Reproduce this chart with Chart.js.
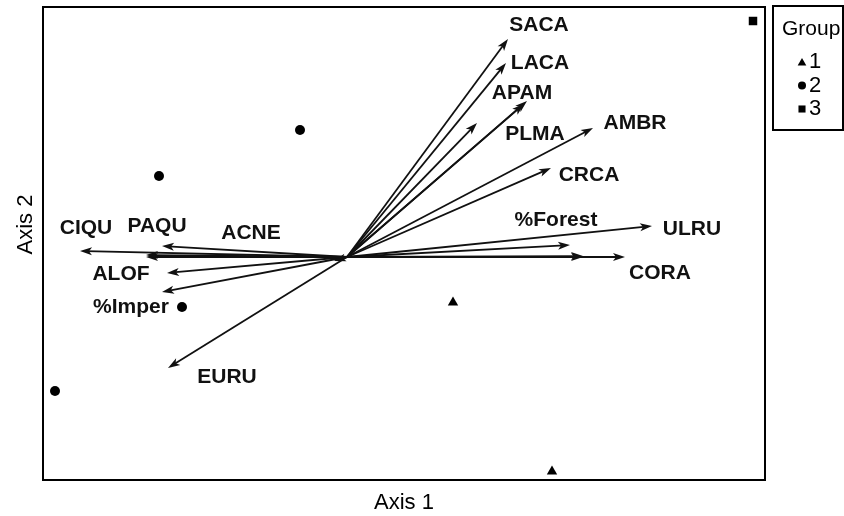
<!DOCTYPE html>
<html>
<head>
<meta charset="utf-8">
<script src="https://cdn.jsdelivr.net/npm/chart.js@4.4.1/dist/chart.umd.min.js"></script>
<style>
  body { margin: 0; background: #fff; }
</style>
</head>
<body>
<canvas id="plot1" width="844" height="516"></canvas>
<script>
// Sitios por grupo (coordenadas en ejes 1 y 2)
let grupo1X = [0.424, 0.82]
let grupo1Y = [-0.182, -0.858]
let grupo2X = [-0.188, -0.752, -0.66, -1.168]
let grupo2Y = [0.508, 0.324, -0.2, -0.536]
let grupo3X = [1.624]
let grupo3Y = [0.944]

// Puntas de los vectores (especies y variables), salen del origen
let flechaX = [0.644, 0.636, 0.72, 0.708, 0.52, 0.984, 0.816, 1.22, 0.892, 0.944, 0.944, 1.112,
               -0.74, -1.068, -0.804, -0.804, -0.72, -0.74, -0.052, -0.716]
let flechaY = [0.872, 0.776, 0.624, 0.612, 0.536, 0.516, 0.356, 0.124, 0.048, 0.0, 0.004, 0.0,
               0.044, 0.024, 0.0, 0.008, -0.064, -0.14, -0.016, -0.444]

// Etiquetas de los vectores y su posicion
let etiquetas = ['SACA', 'LACA', 'APAM', 'PLMA', 'AMBR', 'CRCA', '%Forest', 'ULRU', 'CORA',
                 'CIQU', 'PAQU', 'ACNE', 'ALOF', '%Imper', 'EURU']
let etiquetaX = [0.768, 0.772, 0.70, 0.752, 1.152, 0.968, 0.836, 1.38, 1.252,
                 -1.044, -0.76, -0.384, -0.904, -0.864, -0.48]
let etiquetaY = [0.928, 0.776, 0.656, 0.492, 0.536, 0.328, 0.148, 0.112, -0.064,
                 0.116, 0.124, 0.096, -0.068, -0.2, -0.48]

let grupos = ['1', '2', '3']

let fuente = 'Liberation Sans, Arial, sans-serif'

let aPuntos = (xs, ys) => xs.map((v, i) => ({x: v, y: ys[i]}))

let dibujarMarca = (ctx, tipo, x, y, r) => {
    ctx.beginPath()
    if (tipo === 'triangle') {
        ctx.moveTo(x, y - r)
        ctx.lineTo(x + 0.866 * r, y + 0.5 * r)
        ctx.lineTo(x - 0.866 * r, y + 0.5 * r)
        ctx.closePath()
    } else if (tipo === 'circle') {
        ctx.arc(x, y, r, 0, Math.PI * 2)
    } else {
        ctx.rect(x - r * 0.7071, y - r * 0.7071, r * 1.4142, r * 1.4142)
    }
    ctx.fill()
}

let biplotPlugin = {
    id: 'biplot',
    afterDatasetsDraw(chart) {
        let {ctx, chartArea, scales: {x, y}} = chart
        let x0 = x.getPixelForValue(0)
        let y0 = y.getPixelForValue(0)

        ctx.save()
        ctx.strokeStyle = '#111'
        ctx.fillStyle = '#111'
        ctx.lineWidth = 1.8

        //Vectores con punta de flecha
        for (let i = 0; i < flechaX.length; i++) {
            let x1 = x.getPixelForValue(flechaX[i])
            let y1 = y.getPixelForValue(flechaY[i])
            let ang = Math.atan2(y1 - y0, x1 - x0)
            let c = Math.cos(ang), s = Math.sin(ang)
            ctx.beginPath()
            ctx.moveTo(x0, y0)
            ctx.lineTo(x1 - 6 * c, y1 - 6 * s)
            ctx.stroke()
            ctx.beginPath()
            ctx.moveTo(x1, y1)
            ctx.lineTo(x1 - 12 * c + 4 * s, y1 - 12 * s - 4 * c)
            ctx.lineTo(x1 - 9 * c, y1 - 9 * s)
            ctx.lineTo(x1 - 12 * c - 4 * s, y1 - 12 * s + 4 * c)
            ctx.closePath()
            ctx.fill()
        }

        //Etiquetas en negrita
        ctx.font = 'bold 21px ' + fuente
        ctx.textAlign = 'center'
        ctx.textBaseline = 'middle'
        etiquetas.forEach((t, i) => {
            ctx.fillText(t, x.getPixelForValue(etiquetaX[i]), y.getPixelForValue(etiquetaY[i]))
        })

        //Marco del grafico
        ctx.strokeStyle = '#000'
        ctx.lineWidth = 2
        ctx.strokeRect(chartArea.left, chartArea.top, chartArea.width, chartArea.height)

        //Titulo del eje 2
        ctx.save()
        ctx.translate(26, chartArea.top + chartArea.height * 0.46)
        ctx.rotate(-Math.PI / 2)
        ctx.font = '22px ' + fuente
        ctx.fillStyle = '#000'
        ctx.fillText('Axis 2', 0, 0)
        ctx.restore()

        //Leyenda
        let lx = chartArea.right + 8
        let ly = chartArea.top - 1
        ctx.strokeRect(lx, ly, 70, 124)
        ctx.fillStyle = '#000'
        ctx.textAlign = 'left'
        ctx.font = '21px ' + fuente
        ctx.fillText('Group', lx + 9, ly + 23)
        ctx.font = '22px ' + fuente
        let tipos = ['triangle', 'circle', 'rect']
        let radios = [5, 4, 5]
        grupos.forEach((g, i) => {
            let yy = ly + 56 + i * 23.5
            dibujarMarca(ctx, tipos[i], lx + 29, yy + (i === 0 ? 1 : 0), radios[i])
            ctx.fillText(g, lx + 36, yy)
        })
        ctx.restore()
    }
}

let config = {
    type: 'scatter',
    data: {
        datasets: [
            {label: grupos[0], data: aPuntos(grupo1X, grupo1Y), pointStyle: 'triangle', radius: 6,
             backgroundColor: '#000', borderWidth: 0},
            {label: grupos[1], data: aPuntos(grupo2X, grupo2Y), pointStyle: 'circle', radius: 5,
             backgroundColor: '#000', borderWidth: 0},
            {label: grupos[2], data: aPuntos(grupo3X, grupo3Y), pointStyle: 'rect', radius: 6,
             backgroundColor: '#000', borderWidth: 0}
        ]
    },
    options: {
        responsive: false,
        animation: false,
        layout: {padding: {top: 7, right: 79, left: 0, bottom: 0}},
        plugins: {legend: {display: false}, tooltip: {enabled: false}},
        scales: {
            x: {
                min: -1.216, max: 1.672,
                ticks: {display: false},
                grid: {display: false},
                border: {display: false},
                title: {display: true, text: 'Axis 1', color: '#000', font: {family: fuente, size: 22}, padding: {top: 0, bottom: 0}},
                afterFit: (scale) => { scale.height = 36 }
            },
            y: {
                min: -0.892, max: 1.0,
                ticks: {display: false},
                grid: {display: false},
                border: {display: false},
                afterFit: (scale) => { scale.width = 43 }
            }
        }
    },
    plugins: [biplotPlugin]
}

new Chart(document.getElementById('plot1'), config)
</script>
</body>
</html>
